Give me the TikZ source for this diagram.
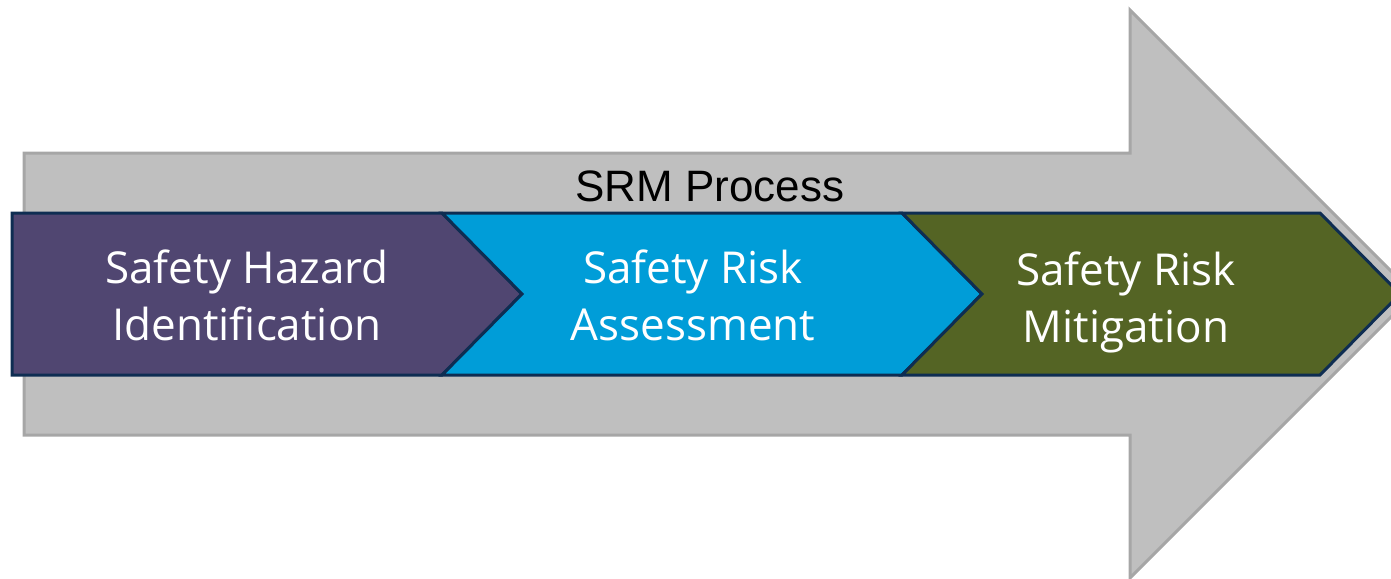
\documentclass[tikz,border=0pt]{standalone}
\usepackage{fontspec}
\setmainfont{Open Sans}
\newfontfamily\titlefont{Liberation Sans}
\definecolor{arrowgray}{RGB}{191,191,191}
\definecolor{edgegray}{RGB}{166,166,166}
\definecolor{navyedge}{RGB}{14,45,82}
\definecolor{hazardpurple}{RGB}{80,70,113}
\definecolor{riskblue}{RGB}{0,157,216}
\definecolor{mitigolive}{RGB}{84,100,36}
\tikzset{%
  bigarrow/.style={fill=arrowgray, draw=edgegray, line width=3pt},
  chevron/.style={draw=navyedge, line width=3pt, line join=miter},
  steplabel/.style={text=white, align=center, inner sep=0pt,
    font=\fontsize{44}{57}\selectfont},
  titlelabel/.style={text=black, inner sep=0pt,
    font=\titlefont\fontsize{44}{50}\selectfont}
}

\begin{document}
\begin{tikzpicture}[x=1pt,y=-1pt]
  \useasboundingbox (0,0) rectangle (1391,578);
  % big grey arrow behind the steps
  \draw [bigarrow] (24,153) -- (1130,153) -- (1130,10) -- (1414,294)
    -- (1130,578) -- (1130,435) -- (24,435) -- cycle;
  % the three steps
  \draw [chevron, fill=hazardpurple] (12,213) -- (442,213) -- (522,294)
    -- (442,375) -- (12,375) -- cycle;
  \draw [chevron, fill=riskblue] (442,213) -- (902,213) -- (982,294)
    -- (902,375) -- (442,375) -- (522,294) -- cycle;
  \draw [chevron, fill=mitigolive] (902,213) -- (1320,213) -- (1400,294)
    -- (1320,375) -- (902,375) -- (982,294) -- cycle;
  \node [titlelabel] (title) at (710,186) {SRM Process};
  \node [steplabel] (hazard) at (247,295) {Safety Hazard\\Identification};
  \node [steplabel] (assess) at (693,295) {Safety Risk\\Assessment};
  \node [steplabel] (mitig) at (1126,302) {Safety Risk\\Mitigation};
\end{tikzpicture}
\end{document}
